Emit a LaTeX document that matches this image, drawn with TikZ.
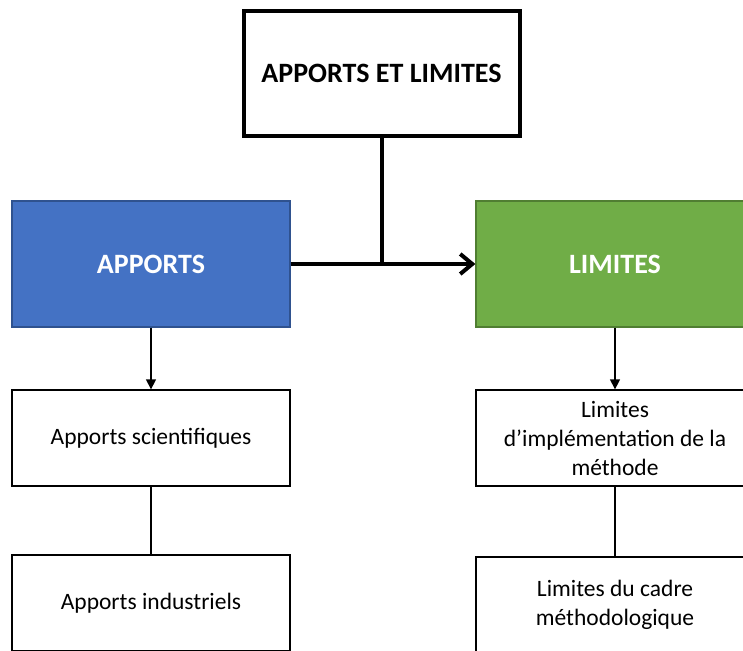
\documentclass[tikz,border=0pt]{standalone}
\usepackage{fontspec}
\setmainfont{Carlito}
\usetikzlibrary{arrows.meta}

\begin{document}
\begin{tikzpicture}[x=1pt, y=1pt,
    bigbox/.style={draw, line width=1.3pt, minimum width=278pt, minimum height=126pt, inner sep=0pt,
        font=\fontsize{28}{34}\selectfont\bfseries, text=white},
    subbox/.style={draw, line width=1.3pt, fill=white, minimum width=278pt, minimum height=96pt, inner sep=0pt,
        align=center, font=\fontsize{23.5}{29}\selectfont},
    link/.style={line width=1.3pt}]
% Define colors
\definecolor{apportblue}{HTML}{4472C4}
\definecolor{apportedge}{HTML}{2F528F}
\definecolor{limitgreen}{HTML}{70AD47}
\definecolor{limitedge}{HTML}{507E32}

% Frame
\useasboundingbox (0,0) rectangle (743,-650);
\clip (0,0) rectangle (743,-650);

% Title
\node[draw, line width=4pt, minimum width=276pt, minimum height=124pt, inner sep=0pt,
    font=\fontsize{28}{34}\selectfont\bfseries] (title) at (381.5,-73.5) {APPORTS ET LIMITES};

% Main branches
\node[bigbox, fill=apportblue, draw=apportedge] (apports) at (151,-264) {APPORTS};
\node[bigbox, fill=limitgreen, draw=limitedge] (limites) at (615,-264) {LIMITES};

% Sub items
\node[subbox] (sci) at (151,-438) {Apports scientifiques};
\node[subbox] (ind) at (151,-603) {Apports industriels};
\node[subbox] (impl) at (615,-438) {Limites\\d’implémentation de la\\méthode};
\node[subbox] (cadre) at (615,-605) {Limites du cadre\\méthodologique};

% Connectors
\coordinate (junction) at (title.south |- apports.east);
\draw[line width=4pt] (title.south) -- (junction);
\draw[line width=4pt, -{Straight Barb[length=12pt, width=20pt]}] (apports.east) -- (limites.west);
\draw[link, -{Triangle[length=10pt, width=10pt]}] (apports.south) -- (sci.north);
\draw[link, -{Triangle[length=10pt, width=10pt]}] (limites.south) -- (impl.north);
\draw[link] (sci.south) -- (ind.north);
\draw[link] (impl.south) -- (cadre.north);

\end{tikzpicture}
\end{document}
